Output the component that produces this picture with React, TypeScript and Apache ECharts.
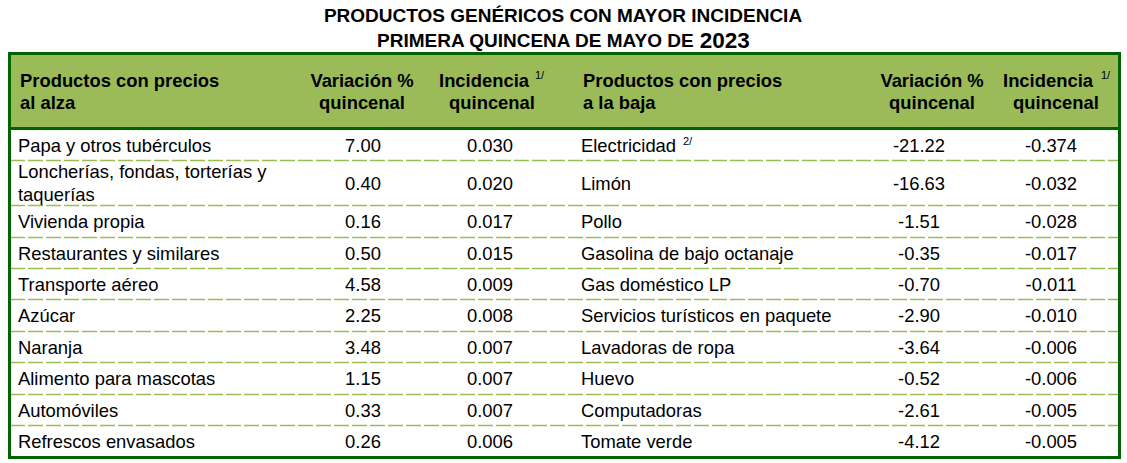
import React, { useEffect, useRef } from "react";
import * as echarts from "echarts";

const titleLine1 = "PRODUCTOS GENÉRICOS CON MAYOR INCIDENCIA";
const titleLine2 = "PRIMERA QUINCENA DE MAYO DE ";
const titleYear = "2023";

const headerUp = ["Productos con precios", "al alza"];
const headerDown = ["Productos con precios", "a la baja"];
const headerVar = ["Variación %", "quincenal"];
const headerInc = ["Incidencia", "quincenal"];

const upNames = [
  "Papa y otros tubérculos",
  "Loncherías, fondas, torterías y\ntaquerías",
  "Vivienda propia",
  "Restaurantes y similares",
  "Transporte aéreo",
  "Azúcar",
  "Naranja",
  "Alimento para mascotas",
  "Automóviles",
  "Refrescos envasados",
];
const upVar = ["7.00", "0.40", "0.16", "0.50", "4.58", "2.25", "3.48", "1.15", "0.33", "0.26"];
const upInc = ["0.030", "0.020", "0.017", "0.015", "0.009", "0.008", "0.007", "0.007", "0.007", "0.006"];

const downNames = [
  "Electricidad",
  "Limón",
  "Pollo",
  "Gasolina de bajo octanaje",
  "Gas doméstico LP",
  "Servicios turísticos en paquete",
  "Lavadoras de ropa",
  "Huevo",
  "Computadoras",
  "Tomate verde",
];
const downVar = ["-21.22", "-16.63", "-1.51", "-0.35", "-0.70", "-2.90", "-3.64", "-0.52", "-2.61", "-4.12"];
const downInc = ["-0.374", "-0.032", "-0.028", "-0.017", "-0.011", "-0.010", "-0.006", "-0.006", "-0.005", "-0.005"];

const rowBounds = [130, 160, 205, 237, 268, 299, 331, 362, 394, 425, 457];

const FONT = "'Liberation Sans', Arial, sans-serif";
const DARK = "#006400";
const LIGHT = "#9BBB59";
const FS = 18.4;

export default function App() {
  const ref = useRef<HTMLDivElement>(null);
  useEffect(() => {
    if (!ref.current) return;
    const chart = echarts.init(ref.current, null, { renderer: "svg" });
    const els: any[] = [];
    const txt = (x: number, y: number, text: string, opts: any = {}) => {
      els.push({
        type: "text",
        x,
        y,
        silent: true,
        style: {
          text,
          fontFamily: FONT,
          fontSize: FS,
          fill: "#000",
          align: "left",
          verticalAlign: "middle",
          lineHeight: 22,
          ...opts,
        },
      });
    };

    // title
    txt(563, 15, titleLine1, { align: "center", fontWeight: "bold", fontSize: 19 });
    els.push({
      type: "text",
      x: 563,
      y: 40,
      style: {
        text: `{a|${titleLine2}}{b|${titleYear}}`,
        align: "center",
        verticalAlign: "middle",
        fill: "#000",
        rich: {
          a: { fontFamily: FONT, fontSize: 19, fontWeight: "bold", fill: "#000" },
          b: { fontFamily: FONT, fontSize: 22.5, fontWeight: "bold", fill: "#000" },
        },
      },
    });

    // header fill
    els.push({ type: "rect", shape: { x: 9, y: 53, width: 1111, height: 75 }, style: { fill: LIGHT } });
    // header underline
    els.push({ type: "line", shape: { x1: 9, y1: 128.5, x2: 1120, y2: 128.5 }, style: { stroke: DARK, lineWidth: 3 } });

    // row separators
    for (let i = 1; i < rowBounds.length - 1; i++) {
      const y = rowBounds[i] + 0.5;
      els.push({
        type: "line",
        shape: { x1: 10, y1: y, x2: 1119, y2: y },
        style: { stroke: LIGHT, lineWidth: 1.3, lineDash: [15, 3] },
      });
    }

    // header texts
    const h1 = 80, h2 = 102;
    const hb = { fontWeight: "bold" };
    txt(20, h1, headerUp[0], hb);
    txt(20, h2, headerUp[1], hb);
    txt(362, h1, headerVar[0], { ...hb, align: "center" });
    txt(362, h2, headerVar[1], { ...hb, align: "center" });
    txt(484, h1, headerInc[0], { ...hb, align: "center" });
    txt(535, 75, "1/", { fontSize: 11 });
    txt(492, h2, headerInc[1], { ...hb, align: "center" });
    txt(583, h1, headerDown[0], hb);
    txt(583, h2, headerDown[1], hb);
    txt(932, h1, headerVar[0], { ...hb, align: "center" });
    txt(932, h2, headerVar[1], { ...hb, align: "center" });
    txt(1048, h1, headerInc[0], { ...hb, align: "center" });
    txt(1101, 75, "1/", { fontSize: 11 });
    txt(1056, h2, headerInc[1], { ...hb, align: "center" });

    // rows
    for (let i = 0; i < upNames.length; i++) {
      const cy = (rowBounds[i] + rowBounds[i + 1]) / 2 + 0.5;
      txt(18, cy, upNames[i], { lineHeight: 23 });
      txt(363, cy, upVar[i], { align: "center" });
      txt(490, cy, upInc[i], { align: "center" });
      txt(581, cy, downNames[i]);
      txt(919, cy, downVar[i], { align: "center" });
      txt(1051, cy, downInc[i], { align: "center" });
    }
    // footnote marker on Electricidad
    txt(683, 141, "2/", { fontSize: 11 });

    // outer border
    els.push({
      type: "rect",
      shape: { x: 9.5, y: 53.5, width: 1110, height: 404 },
      style: { fill: "none", stroke: DARK, lineWidth: 3 },
    });

    // bottom footnote marker (partly visible as in the reference)
    txt(18, 460, "1/", { fontSize: 8, verticalAlign: "top" });

    chart.setOption({
      animation: false,
      graphic: { elements: els },
    });
    return () => chart.dispose();
  }, []);
  return (
    <div
      ref={ref}
      style={{ position: "fixed", left: 0, top: 0, width: 1127, height: 463, background: "#fff" }}
    />
  );
}
